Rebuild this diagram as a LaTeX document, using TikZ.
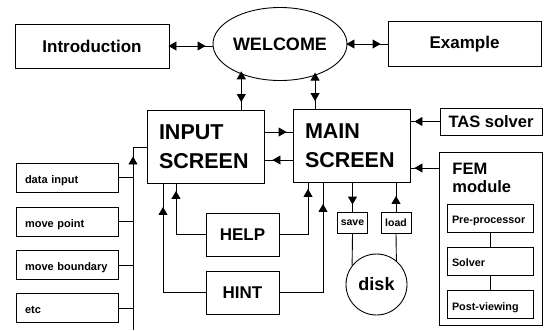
\documentclass[tikz,border=0pt]{standalone}
\usepackage{fontspec}
\setmainfont{Liberation Sans}
\usetikzlibrary{arrows.meta,shapes.geometric,decorations.markings}

\begin{document}
\begin{tikzpicture}[x=1pt,y=-1pt,line width=0.9pt]
\tikzset{
  box/.style={draw,rectangle,inner sep=2pt,font=\bfseries\fontsize{17}{20}\selectfont},
  screenbox/.style={draw,rectangle,align=left,text width=93pt,inner xsep=12pt,inner ysep=0pt,minimum height=73pt,font=\bfseries\fontsize{21.5}{29}\selectfont},
  panelbox/.style={draw,rectangle,align=left,text width=84pt,inner xsep=9pt,inner ysep=0pt,minimum height=29pt,text height=11pt,text depth=0pt,font=\bfseries\fontsize{11}{13}\selectfont},
  fembox/.style={draw,rectangle,align=left,text width=76pt,inner xsep=5pt,inner ysep=0pt,minimum height=28pt,text height=11pt,text depth=0pt,font=\bfseries\fontsize{10.8}{13}\selectfont},
  iobox/.style={draw,rectangle,inner sep=1pt,minimum width=30pt,minimum height=21pt,font=\bfseries\fontsize{10.5}{12}\selectfont},
  >={Triangle[length=8pt,width=9pt]},
  tipfwd/.style={postaction={decorate,decoration={markings,mark=at position #1 with {\arrow{>}}}}},
  tipbwd/.style={postaction={decorate,decoration={markings,mark=at position #1 with {\arrow{<}}}}}
}
\useasboundingbox (0,0) rectangle (544,330);
% top row
\node[box,minimum width=154pt,minimum height=44pt] (n_intro) at (92,46) {Introduction};
\node[draw,ellipse,minimum width=134pt,minimum height=73pt,inner sep=0pt,font=\bfseries\fontsize{18}{20}\selectfont] (n_welcome) at (280,44) {WELCOME};
\node[box,minimum width=153pt,minimum height=45pt] (n_example) at (464.5,44) {Example};
% screens
\node[screenbox] (n_input) at (205.5,147) {INPUT\\SCREEN};
\node[screenbox] (n_main) at (351.5,146) {MAIN\\SCREEN};
\node[box,minimum width=102pt,minimum height=27pt,font=\bfseries\fontsize{16.5}{18}\selectfont] (n_tas) at (491,121.5) {TAS solver};
% fem module
\node[draw,rectangle,minimum width=103pt,minimum height=173pt] (n_fem) at (490.5,238.5) {};
\node[anchor=north west,align=left,inner sep=0pt,font=\bfseries\fontsize{16.5}{18}\selectfont] (n_femlabel) at (452,163) {FEM\\module};
\node[fembox] (n_pre) at (490,218) {Pre-processor};
\node[fembox] (n_solver) at (490,261) {Solver};
\node[fembox] (n_post) at (490,304.5) {Post-viewing};
% storage
\node[iobox] (n_save) at (352.5,222.5) {save};
\node[iobox] (n_load) at (396,222.5) {load};
\node[draw,circle,minimum size=61pt,inner sep=0pt,font=\bfseries\fontsize{18}{20}\selectfont] (n_disk) at (376.5,284.5) {disk};
% help
\node[box,minimum width=73pt,minimum height=43pt] (n_help) at (242.5,234.5) {HELP};
\node[box,minimum width=73pt,minimum height=43pt] (n_hint) at (242.5,292.5) {HINT};
% input tools
\node[panelbox] (n_data) at (67,177.5) {data input};
\node[panelbox] (n_point) at (67,221.5) {move point};
\node[panelbox] (n_bound) at (67,265) {move boundary};
\node[panelbox] (n_etc) at (67,308) {etc};
\coordinate (bus_bot) at (133,330);

\draw[tipbwd=7pt,tipfwd=-7pt] (n_intro.east) -- (n_intro.east -| n_welcome.west);
\draw[tipbwd=7pt,tipfwd=-7pt] (n_welcome.east) -- (n_welcome.east -| n_example.west);
\draw[tipbwd=5pt,tipfwd=-8pt] (n_welcome.218) -- (n_welcome.218 |- n_input.north);
\draw[tipbwd=5pt,tipfwd=-8pt] (n_welcome.318) -- (n_welcome.318 |- n_main.north);
\draw[tipfwd=-6pt] ([yshift=15pt]n_input.east) -- ([yshift=15pt]n_input.east -| n_main.west);
\draw[tipfwd=-8pt] ([yshift=-14pt]n_main.west) -- ([yshift=-14pt]n_main.west -| n_input.east);
\draw[tipfwd=-4pt] (n_tas.west) -- (n_tas.west -| n_main.east);
\draw[tipfwd=-4pt] ([yshift=70.5pt]n_fem.west) -- ([yshift=70.5pt]n_fem.west -| n_main.east);
\draw (n_pre) -- (n_solver);
\draw (n_solver) -- (n_post);
\draw[tipfwd=-7pt] (n_save.north |- n_main.south) -- (n_save.north);
\draw[tipfwd=-13pt] (n_load.north) -- (n_load.north |- n_main.south);
\draw (n_save.south) -- (n_disk.142);
\draw (n_load.south) -- (n_disk.50);
\draw[tipfwd=-7pt] (n_help.west) -| ([xshift=-29.5pt]n_input.south);
\draw[tipfwd=-23pt] (n_hint.west) -| ([xshift=-42.5pt]n_input.south);
\draw[tipfwd=-6pt] (n_help.east) -| ([xshift=-43.5pt]n_main.south);
\draw[tipfwd=-21pt] (n_hint.east) -| ([xshift=-28.5pt]n_main.south);
\draw[tipfwd=-23pt] (bus_bot) |- (n_input.west);
\draw (n_data.east) -- (n_data.east -| bus_bot);
\draw (n_point.east) -- (n_point.east -| bus_bot);
\draw (n_bound.east) -- (n_bound.east -| bus_bot);
\draw (n_etc.east) -- (n_etc.east -| bus_bot);
\end{tikzpicture}
\end{document}
